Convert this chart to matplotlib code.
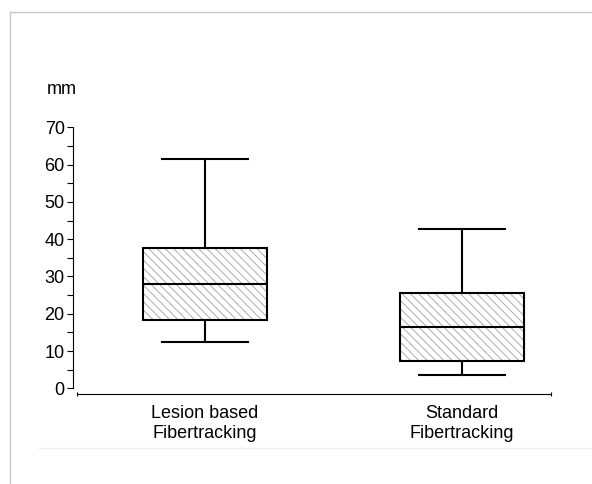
import matplotlib
matplotlib.use('Agg')
import matplotlib.pyplot as plt
from matplotlib.lines import Line2D

plt.rcParams['font.family'] = ['Liberation Sans', 'DejaVu Sans']
plt.rcParams['hatch.color'] = '#a0a0a0'
plt.rcParams['hatch.linewidth'] = 0.6

# data (mm)
groups = ['Lesion based\nFibertracking', 'Standard\nFibertracking']
whislo = [12.3, 3.6]
q1 = [18.2, 7.3]
med = [28.0, 16.4]
q3 = [37.5, 25.5]
whishi = [61.4, 42.6]

stats = []
for i in range(len(groups)):
    stats.append(dict(label=groups[i], whislo=whislo[i], q1=q1[i], med=med[i],
                      q3=q3[i], whishi=whishi[i], fliers=[]))

fig = plt.figure(figsize=(5.92, 4.84), dpi=100)
ax = fig.add_axes([73 / 592, 95.7 / 484, (551 - 73) / 592, 261 / 484])

pos = [1, 2]
# hatched fill first, then black outlines on top
ax.bxp(stats, positions=pos, widths=0.482, patch_artist=True, showcaps=False,
       boxprops=dict(facecolor='white', edgecolor='#a0a0a0', linewidth=0, hatch='\\\\\\\\'),
       whiskerprops=dict(linewidth=0), medianprops=dict(linewidth=0))
ax.bxp(stats, positions=pos, widths=0.482, capwidths=0.334, patch_artist=True,
       boxprops=dict(facecolor='none', edgecolor='black', linewidth=1.5),
       whiskerprops=dict(color='black', linewidth=1.5),
       capprops=dict(color='black', linewidth=1.5),
       medianprops=dict(color='black', linewidth=1.5))

ax.set_xlim(0.4875, 2.3475)
ax.set_ylim(0, 70)

for s in ['top', 'right']:
    ax.spines[s].set_visible(False)
ax.spines['left'].set_linewidth(0.8)
ax.spines['bottom'].set_linewidth(0.8)
ax.spines['bottom'].set_position(('outward', 4))
ax.spines['bottom'].set_bounds(0.503, 2.3475)

ax.set_yticks(range(0, 71, 10))
ax.set_yticks(range(5, 70, 10), minor=True)
ax.tick_params(axis='y', which='both', length=4, width=0.8, labelsize=13, pad=2)

ax.set_xticks(pos)
ax.set_xticklabels(groups, fontsize=13, linespacing=1.25)
ax.tick_params(axis='x', which='major', length=0, pad=8)
ax.set_xticks([0.503, 2.3475], minor=True)
ax.tick_params(axis='x', which='minor', length=3, width=0.8, direction='inout')

fig.text(47 / 592, 1 - 90 / 484, 'mm', fontsize=13, va='center', ha='left')

# thin grey frame lines around the figure
fig.add_artist(Line2D([9.5 / 592, 1], [1 - 12 / 484, 1 - 12 / 484], color='#c8c8c8', linewidth=1))
fig.add_artist(Line2D([9.5 / 592, 9.5 / 592], [0, 1 - 12 / 484], color='#c8c8c8', linewidth=1))
fig.add_artist(Line2D([39 / 592, 1], [1 - 448 / 484, 1 - 448 / 484], color='#efefef', linewidth=1))

fig.savefig('out.png', dpi=100)
